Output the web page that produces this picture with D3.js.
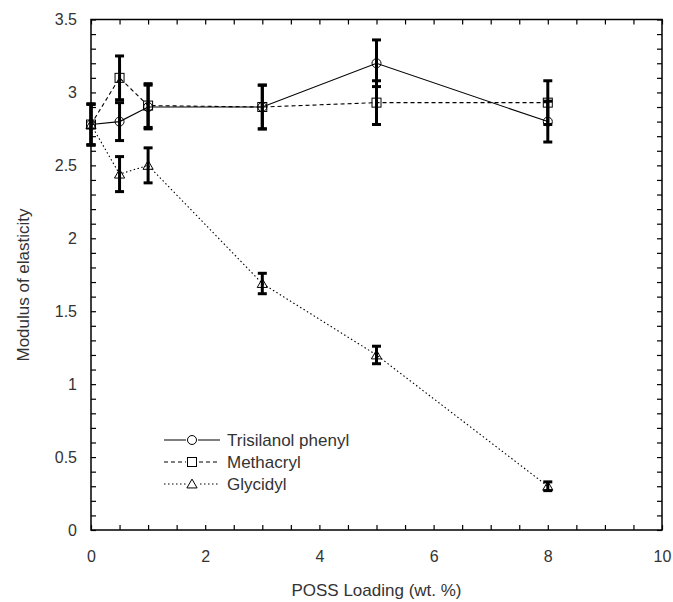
<!DOCTYPE html>
<html>
<head>
<meta charset="utf-8">
<script src="https://cdn.jsdelivr.net/npm/d3@7"></script>
<style>
  body { margin: 0; background: #fff; }
  svg text { font-family: "Liberation Sans", Arial, sans-serif; fill: #333; }
</style>
</head>
<body>
<div id="chart"></div>
<script>
// Values
const loading = [0, 0.5, 1, 3, 5, 8];

const trisilanol = [2.78, 2.8, 2.9, 2.9, 3.2, 2.8];
const trisilanolErr = [0.14, 0.13, 0.15, 0.15, 0.16, 0.14];

const methacryl = [2.78, 3.1, 2.91, 2.9, 2.93, 2.93];
const methacrylErr = [0.14, 0.15, 0.15, 0.15, 0.15, 0.15];

const glycidyl = [2.78, 2.44, 2.5, 1.69, 1.2, 0.3];
const glycidylErr = [0.14, 0.12, 0.12, 0.07, 0.06, 0.03];

const seriesNames = ["Trisilanol phenyl", "Methacryl", "Glycidyl"];
const xTicks = [0, 2, 4, 6, 8, 10];
const yTicks = [0, 0.5, 1, 1.5, 2, 2.5, 3, 3.5];

const W = 673, H = 602;
const margin = {left: 91, top: 19.5, right: 11, bottom: 72};
const width = W - margin.left - margin.right;
const height = H - margin.top - margin.bottom;

const svg = d3.select("#chart").append("svg")
    .attr("width", W)
    .attr("height", H);

const chart = svg.append("g")
    .attr("transform", "translate(" + margin.left + "," + margin.top + ")");

const x = d3.scaleLinear().domain([0, 10]).range([0, width]);
const y = d3.scaleLinear().domain([0, 3.5]).range([height, 0]);

// minor ticks on all four sides, pointing inward
const xMinor = d3.range(0, 10.001, 0.5);
const yMinor = d3.range(0, 3.501, 0.1);

function styleAxis(g) {
    g.selectAll(".domain").remove();
    g.selectAll(".tick line").attr("stroke", "#000").attr("stroke-width", 1.2);
}

chart.append("g")
    .attr("transform", "translate(0," + height + ")")
    .call(d3.axisBottom(x).tickValues(xMinor).tickSize(-5).tickFormat(""))
    .call(styleAxis);
chart.append("g")
    .call(d3.axisTop(x).tickValues(xMinor).tickSize(-5).tickFormat(""))
    .call(styleAxis);
chart.append("g")
    .call(d3.axisLeft(y).tickValues(yMinor).tickSize(-5).tickFormat(""))
    .call(styleAxis);
chart.append("g")
    .attr("transform", "translate(" + width + ",0)")
    .call(d3.axisRight(y).tickValues(yMinor).tickSize(-5).tickFormat(""))
    .call(styleAxis);

// tick labels
chart.append("g")
    .attr("transform", "translate(0," + height + ")")
    .call(d3.axisBottom(x).tickValues(xTicks).tickSize(0).tickPadding(21).tickFormat(d3.format("d")))
    .call(g => g.select(".domain").remove())
    .selectAll("text")
    .attr("font-size", 16)
    .attr("fill", "#333");

chart.append("g")
    .call(d3.axisLeft(y).tickValues(yTicks).tickSize(0).tickPadding(14).tickFormat(d => d === 0 ? "0" : d3.format("")(d)))
    .call(g => g.select(".domain").remove())
    .selectAll("text")
    .attr("font-size", 16)
    .attr("fill", "#333");

// frame
chart.append("rect")
    .attr("x", 0).attr("y", 0)
    .attr("width", width).attr("height", height)
    .attr("fill", "none")
    .attr("stroke", "#000")
    .attr("stroke-width", 1.5);

// axis titles
svg.append("text")
    .attr("x", margin.left + width / 2)
    .attr("y", 596)
    .attr("text-anchor", "middle")
    .attr("font-size", 17)
    .text("POSS Loading (wt. %)");

svg.append("text")
    .attr("transform", "translate(29,285) rotate(-90)")
    .attr("text-anchor", "middle")
    .attr("font-size", 17)
    .text("Modulus of elasticity");

const series = [
    {name: seriesNames[0], values: trisilanol, err: trisilanolErr, dash: null, marker: "circle"},
    {name: seriesNames[1], values: methacryl, err: methacrylErr, dash: "4,3", marker: "square"},
    {name: seriesNames[2], values: glycidyl, err: glycidylErr, dash: "1.5,2.5", marker: "triangle"}
];

const line = d3.line()
    .x(d => x(d.x))
    .y(d => y(d.y));

function drawMarker(g, type, cx, cy) {
    if (type === "circle") {
        g.append("circle")
            .attr("cx", cx).attr("cy", cy).attr("r", 4.5)
            .attr("fill", "none").attr("stroke", "#000").attr("stroke-width", 1);
    } else if (type === "square") {
        g.append("rect")
            .attr("x", cx - 4.5).attr("y", cy - 4.5)
            .attr("width", 9).attr("height", 9)
            .attr("fill", "none").attr("stroke", "#000").attr("stroke-width", 1);
    } else {
        g.append("path")
            .attr("d", d3.symbol(d3.symbolTriangle, 45)())
            .attr("transform", "translate(" + cx + "," + (cy + 1) + ")")
            .attr("fill", "none").attr("stroke", "#000").attr("stroke-width", 1);
    }
}

series.forEach(s => {
    const pts = loading.map((l, i) => ({x: l, y: s.values[i], e: s.err[i]}));
    const g = chart.append("g");

    g.append("path")
        .datum(pts)
        .attr("d", line)
        .attr("fill", "none")
        .attr("stroke", "#000")
        .attr("stroke-width", 1.1)
        .attr("stroke-dasharray", s.dash);

    // error bars
    pts.forEach(p => {
        const px = x(p.x);
        g.append("line")
            .attr("x1", px).attr("x2", px)
            .attr("y1", y(p.y + p.e)).attr("y2", y(p.y - p.e))
            .attr("stroke", "#000").attr("stroke-width", 3);
        [p.y + p.e, p.y - p.e].forEach(v => {
            g.append("line")
                .attr("x1", px - 4.5).attr("x2", px + 4.5)
                .attr("y1", y(v)).attr("y2", y(v))
                .attr("stroke", "#000").attr("stroke-width", 3);
        });
    });

    pts.forEach(p => drawMarker(g, s.marker, x(p.x), y(p.y)));
});

// legend
const legend = svg.append("g");
series.forEach((s, i) => {
    const ly = 440 + i * 22;
    legend.append("line")
        .attr("x1", 164).attr("x2", 220)
        .attr("y1", ly).attr("y2", ly)
        .attr("stroke", "#000")
        .attr("stroke-width", 1.1)
        .attr("stroke-dasharray", s.dash);
    legend.append("rect")
        .attr("x", 186).attr("y", ly - 6)
        .attr("width", 12).attr("height", 12)
        .attr("fill", "#fff");
    drawMarker(legend, s.marker, 192, ly);
    legend.append("text")
        .attr("x", 227)
        .attr("y", ly + 6)
        .attr("font-size", 17)
        .text(s.name);
});
</script>
</body>
</html>
